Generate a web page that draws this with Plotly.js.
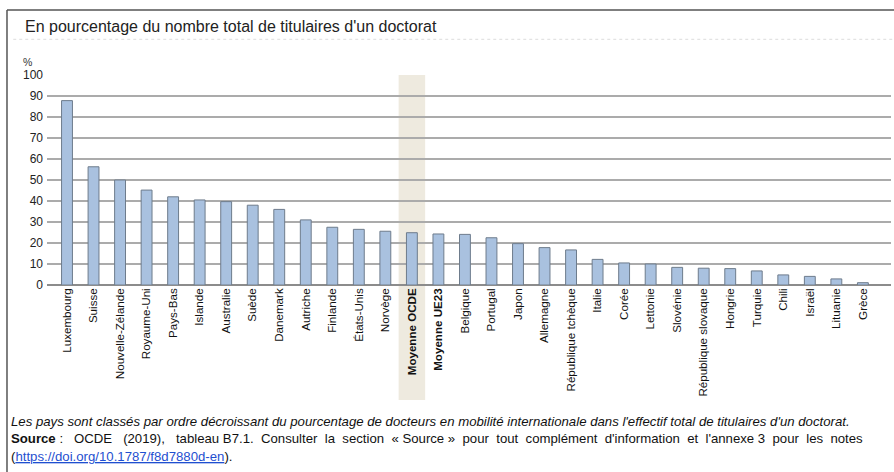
<!DOCTYPE html>
<html>
<head>
<meta charset="utf-8">
<script src="https://cdn.plot.ly/plotly-3.0.1.min.js"></script>
<style>
html,body{margin:0;padding:0;background:#fff;}
#chart{width:894px;height:472px;}
</style>
</head>
<body>
<div id="chart"></div>
<script>
const categories = ["Luxembourg","Suisse","Nouvelle-Zélande","Royaume-Uni","Pays-Bas","Islande","Australie","Suède","Danemark","Autriche","Finlande","États-Unis","Norvège","Moyenne OCDE","Moyenne UE23","Belgique","Portugal","Japon","Allemagne","République tchèque","Italie","Corée","Lettonie","Slovénie","République slovaque","Hongrie","Turquie","Chili","Israël","Lituanie","Grèce"];
const values = [87.8,56.3,50.0,45.2,42.0,40.5,39.7,38.0,36.0,31.0,27.5,26.5,25.6,24.9,24.3,24.1,22.5,19.7,17.8,16.7,12.2,10.5,10.0,8.4,8.0,7.8,6.7,4.8,4.1,2.9,1.1];
const boldCategories = ["Moyenne OCDE","Moyenne UE23"];
const highlighted = "Moyenne OCDE";
const yTicks = [0,10,20,30,40,50,60,70,80,90,100];

const FONT = "'Liberation Sans', Arial, sans-serif";
const idx = categories.map((c,i)=>i);
const tickText = categories.map(c => boldCategories.includes(c) ? "<b>"+c+"</b>" : c);
const hi = categories.indexOf(highlighted);

const trace = {
  type: "bar",
  x: idx,
  y: values,
  marker: {color: "#A9C1DF", line: {color: "#6E7C8C", width: 1}},
  hoverinfo: "skip"
};

const layout = {
  width: 894, height: 472,
  margin: {l: 47, r: 3, t: 75, b: 187},
  paper_bgcolor: "#fff", plot_bgcolor: "#fff",
  showlegend: false,
  bargap: 0.59,
  font: {family: FONT, color: "#222", size: 12},
  xaxis: {
    range: [-0.754, 31.06],
    tickmode: "array", tickvals: idx, ticktext: tickText,
    tickangle: -90, tickfont: {family: FONT, size: 11.6, color: "#111"},
    showgrid: false, zeroline: false, showline: false, ticks: "", ticklen: 0
  },
  yaxis: {
    range: [0, 100],
    tickmode: "array", tickvals: yTicks,
    tickfont: {family: FONT, size: 12, color: "#222"},
    showgrid: true, gridcolor: "#ABABAB", gridwidth: 1.5,
    zeroline: true, zerolinecolor: "#8C8C8C", zerolinewidth: 1.5,
    showline: false, ticks: "", ticklabelstandoff: 3
  },
  shapes: [
    {type: "rect", xref: "x", yref: "paper", x0: hi - 0.5, x1: hi + 0.5, y0: -0.548, y1: 1,
     fillcolor: "#EEEADF", line: {width: 0}, layer: "below"},
    {type: "line", xref: "paper", yref: "paper", x0: -0.0474, x1: 1.01, y0: 1.3095, y1: 1.3095,
     line: {color: "#555", width: 1.5}},
    {type: "line", xref: "paper", yref: "paper", x0: -0.0474, x1: -0.0474, y0: 1.3095, y1: -0.9,
     line: {color: "#555", width: 1.5}},
    {type: "line", xref: "paper", yref: "paper", x0: -0.04, x1: 1.01, y0: 1.17, y1: 1.17,
     line: {color: "#DDDDDD", width: 1, dash: "dot"}}
  ],
  annotations: [
    {xref: "paper", yref: "paper", x: -0.0285, y: 1.2286, xanchor: "left", yanchor: "middle",
     text: "En pourcentage du nombre total de titulaires d'un doctorat", showarrow: false,
     font: {family: FONT, size: 16, color: "#222"}},
    {xref: "paper", yref: "paper", x: -0.0235, y: 1.062, xanchor: "center", yanchor: "middle",
     text: "%", showarrow: false, font: {family: FONT, size: 10.5, color: "#333"}},
    {xref: "paper", yref: "paper", x: -0.0450, y: -0.648, xanchor: "left", yanchor: "middle",
     text: "<i>Les pays sont classés par ordre décroissant du pourcentage de docteurs en mobilité internationale dans l'effectif total de titulaires d'un doctorat.</i>",
     showarrow: false, font: {family: FONT, size: 13.2, color: "#111"}},
    {xref: "paper", yref: "paper", x: -0.0450, y: -0.729, xanchor: "left", yanchor: "middle",
     text: "<b>Source</b> :   OCDE   (2019),   tableau B7.1.  Consulter  la  section  « Source »  pour  tout  complément  d'information  et  l'annexe 3  pour  les  notes",
     showarrow: false, font: {family: FONT, size: 13.2, color: "#111"}},
    {xref: "paper", yref: "paper", x: -0.0450, y: -0.815, xanchor: "left", yanchor: "middle",
     text: "(<span style='color:#1F4FD0'><u>https://doi.org/10.1787/f8d7880d-en</u></span>).",
     showarrow: false, font: {family: FONT, size: 13.2, color: "#111"}}
  ]
};

Plotly.newPlot("chart", [trace], layout, {displayModeBar: false, staticPlot: true});
</script>
</body>
</html>
